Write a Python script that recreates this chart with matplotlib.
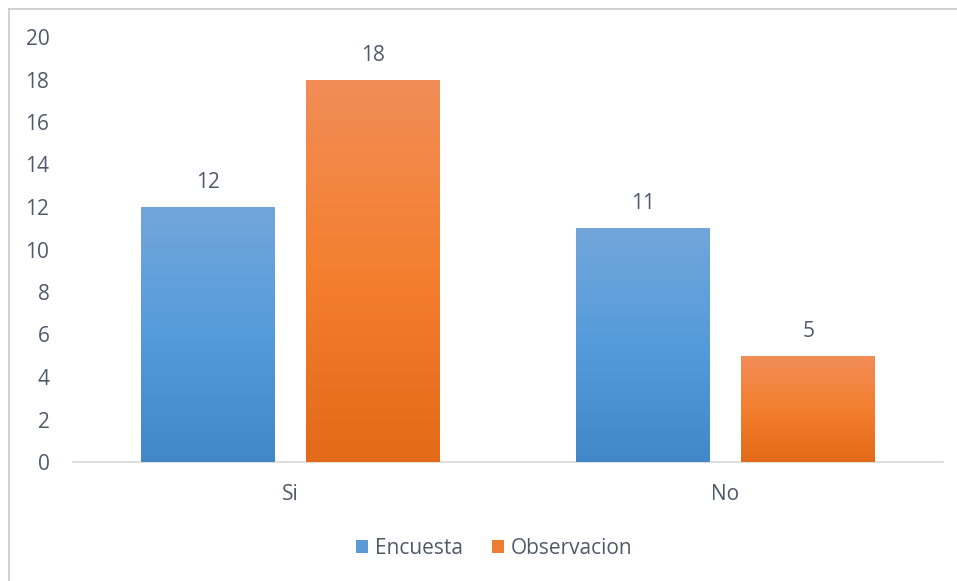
import numpy as np
import matplotlib.pyplot as plt
from matplotlib.colors import LinearSegmentedColormap
from matplotlib.lines import Line2D
from matplotlib.patches import Patch

categories = ['Si', 'No']
encuesta = [12, 11]
observacion = [18, 5]
yticks = [0, 2, 4, 6, 8, 10, 12, 14, 16, 18, 20]

plt.rcParams['font.family'] = ['Open Sans', 'DejaVu Sans']
text_color = '#4f5a69'

blue_cmap = LinearSegmentedColormap.from_list('blue', ['#4287c7', '#559bdc', '#72a6da'])
orange_cmap = LinearSegmentedColormap.from_list('orange', ['#e26a19', '#f47f2f', '#f18d57'])

fig = plt.figure(figsize=(9.57, 5.81), dpi=100)
ax = fig.add_axes([73/957, 1 - 462/581, 870/957, 425/581])

x = np.arange(len(categories))
width = 0.308
offset = 0.19

grad = np.linspace(0, 1, 256).reshape(-1, 1)

def gradient_bars(xpos, values, cmap, label):
    bars = ax.bar(xpos, values, width, color=cmap(0.5), label=label,
                  edgecolor='none', zorder=2)
    for b, v in zip(bars, values):
        x0 = b.get_x()
        im = ax.imshow(grad, cmap=cmap, origin='lower', aspect='auto',
                       extent=[x0, x0 + b.get_width(), 0, v], zorder=3)
        im.set_clip_path(b)
        ax.text(b.get_x() + b.get_width() / 2, v + 0.65, str(v),
                ha='center', va='bottom', fontsize=15, color=text_color)
    return bars

gradient_bars(x - offset, encuesta, blue_cmap, 'Encuesta')
gradient_bars(x + offset, observacion, orange_cmap, 'Observacion')

ax.set_xlim(-0.5, 1.5)
ax.set_ylim(0, 20)
ax.set_yticks(yticks)
ax.set_xticks(x)
ax.set_xticklabels(categories)
ax.tick_params(axis='both', length=0, labelsize=15, labelcolor=text_color)
ax.tick_params(axis='y', pad=17)
ax.tick_params(axis='x', pad=16)
for s in ['top', 'right', 'left']:
    ax.spines[s].set_visible(False)
ax.spines['bottom'].set_color('#d9d9d9')
ax.spines['bottom'].set_linewidth(1.2)

handles = [Patch(facecolor='#5b9bd5', label='Encuesta'),
           Patch(facecolor='#ed7d31', label='Observacion')]
fig.legend(handles=handles, loc='center', bbox_to_anchor=(494/957, 1 - 548/581),
           ncol=2, frameon=False, fontsize=15, labelcolor=text_color,
           handlelength=0.6, handleheight=0.6, handletextpad=0.3, columnspacing=1.4)

# chart frame edges
fig.add_artist(Line2D([9/957, 1], [1 - 9/581, 1 - 9/581], color='#c8c8c8', lw=1.2))
fig.add_artist(Line2D([9/957, 9/957], [0, 1 - 9/581], color='#c8c8c8', lw=1.2))

fig.savefig('out.png', dpi=100)
